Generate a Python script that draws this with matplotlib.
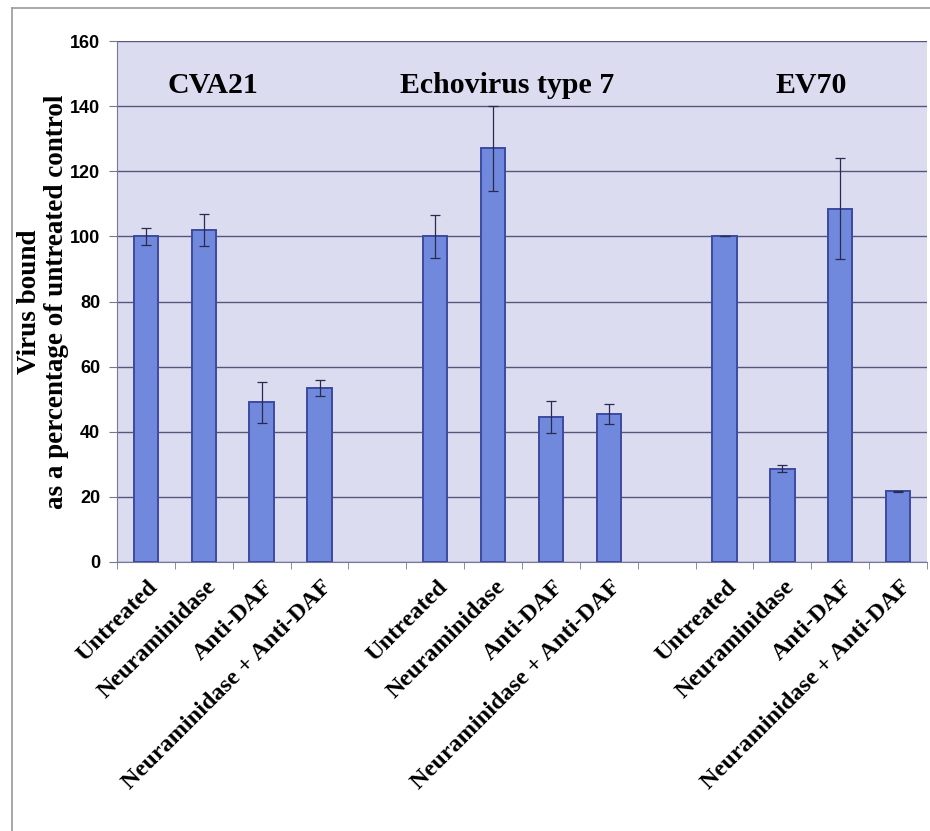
#! /usr/bin/env python3
import numpy as np
import matplotlib.pyplot as plt
from matplotlib.lines import Line2D
import matplotlib.transforms as mtransforms

viruses = ['CVA21', 'Echovirus type 7', 'EV70']
treatments = ['Untreated', 'Neuraminidase', 'Anti-DAF', 'Neuraminidase + Anti-DAF']

# virus bound, % of untreated control (one list per virus)
cva21 = [100, 102, 49, 53.5]
cva21_err = [2.7, 5, 6.3, 2.5]
echo7 = [100, 127, 44.5, 45.5]
echo7_err = [6.5, 13, 5, 3]
ev70 = [100, 28.7, 108.5, 21.7]
ev70_err = [0, 1, 15.5, 0.2]

yticks = [0, 20, 40, 60, 80, 100, 120, 140, 160]

bar_col = '#7189dc'
edge_col = '#3c4aa0'
bg_col = '#dcdcf1'
grid_col = '#55567a'
serif = ['Liberation Serif', 'DejaVu Serif']
sans = ['Liberation Sans', 'DejaVu Sans']

fig = plt.figure(figsize=(9.30, 8.31), dpi=100)
ax = fig.add_axes([117/930, 1-562/831, 810/930, 521/831])
ax.set_facecolor(bg_col)

# 4 bars per virus, one empty slot between groups
values = cva21 + [np.nan] + echo7 + [np.nan] + ev70
errs = cva21_err + [0] + echo7_err + [0] + ev70_err
labels = treatments + [''] + treatments + [''] + treatments
x = np.arange(len(values))

ax.bar(x, values, width=0.42, color=bar_col, edgecolor=edge_col, linewidth=1.4, zorder=3)
ax.errorbar(x, values, yerr=errs, fmt='none', ecolor='#2a2a50', elinewidth=0.9,
            capsize=3.5, capthick=0.9, zorder=4)

ax.set_xlim(-0.5, len(values)-0.5)
ax.set_ylim(0, 160)
ax.set_yticks(yticks)
ax.set_yticklabels([str(t) for t in yticks], fontfamily=sans, fontweight='bold', fontsize=13)
ax.yaxis.grid(True, color=grid_col, linewidth=1.0, zorder=1)
ax.set_axisbelow(True)

# category ticks between bars, labels at bar centres
ax.set_xticks(x)
ax.set_xticks(np.arange(-0.5, len(values)), minor=True)
ax.tick_params(axis='x', which='major', length=0, pad=0)
ax.tick_params(axis='x', which='minor', length=5, color='#777799', direction='out')
ax.tick_params(axis='y', length=6, color='#777799', direction='out', pad=6)
ax.set_xticklabels(labels, rotation=45, ha='right', va='center', rotation_mode='anchor',
                   fontfamily=serif, fontweight='bold', fontsize=17.5)
off = mtransforms.ScaledTranslation(9/100, -22/100, fig.dpi_scale_trans)
for lab in ax.get_xticklabels():
    lab.set_transform(lab.get_transform() + off)

for s in ['top', 'right']:
    ax.spines[s].set_visible(False)
ax.spines['left'].set_color('#777799')
ax.spines['bottom'].set_color('#777799')

# virus names over each group
for xc, name in zip([1.16, 6.24, 11.5], viruses):
    ax.text(xc, 144, name, ha='center', va='baseline',
            fontfamily=serif, fontweight='bold', fontsize=21.5)

fig.text(43/930, 1-302/831, 'Virus bound\nas a percentage of untreated control',
         rotation=90, ha='center', va='center', multialignment='center',
         fontfamily=serif, fontweight='bold', fontsize=19.5, linespacing=1.1)

# outer frame of the pasted figure
fig.add_artist(Line2D([12/930, 1.0], [1-8/831, 1-8/831], color='#999999', linewidth=1.2))
fig.add_artist(Line2D([12/930, 12/930], [0, 1-8/831], color='#999999', linewidth=1.2))

fig.savefig('out.png', dpi=100)
